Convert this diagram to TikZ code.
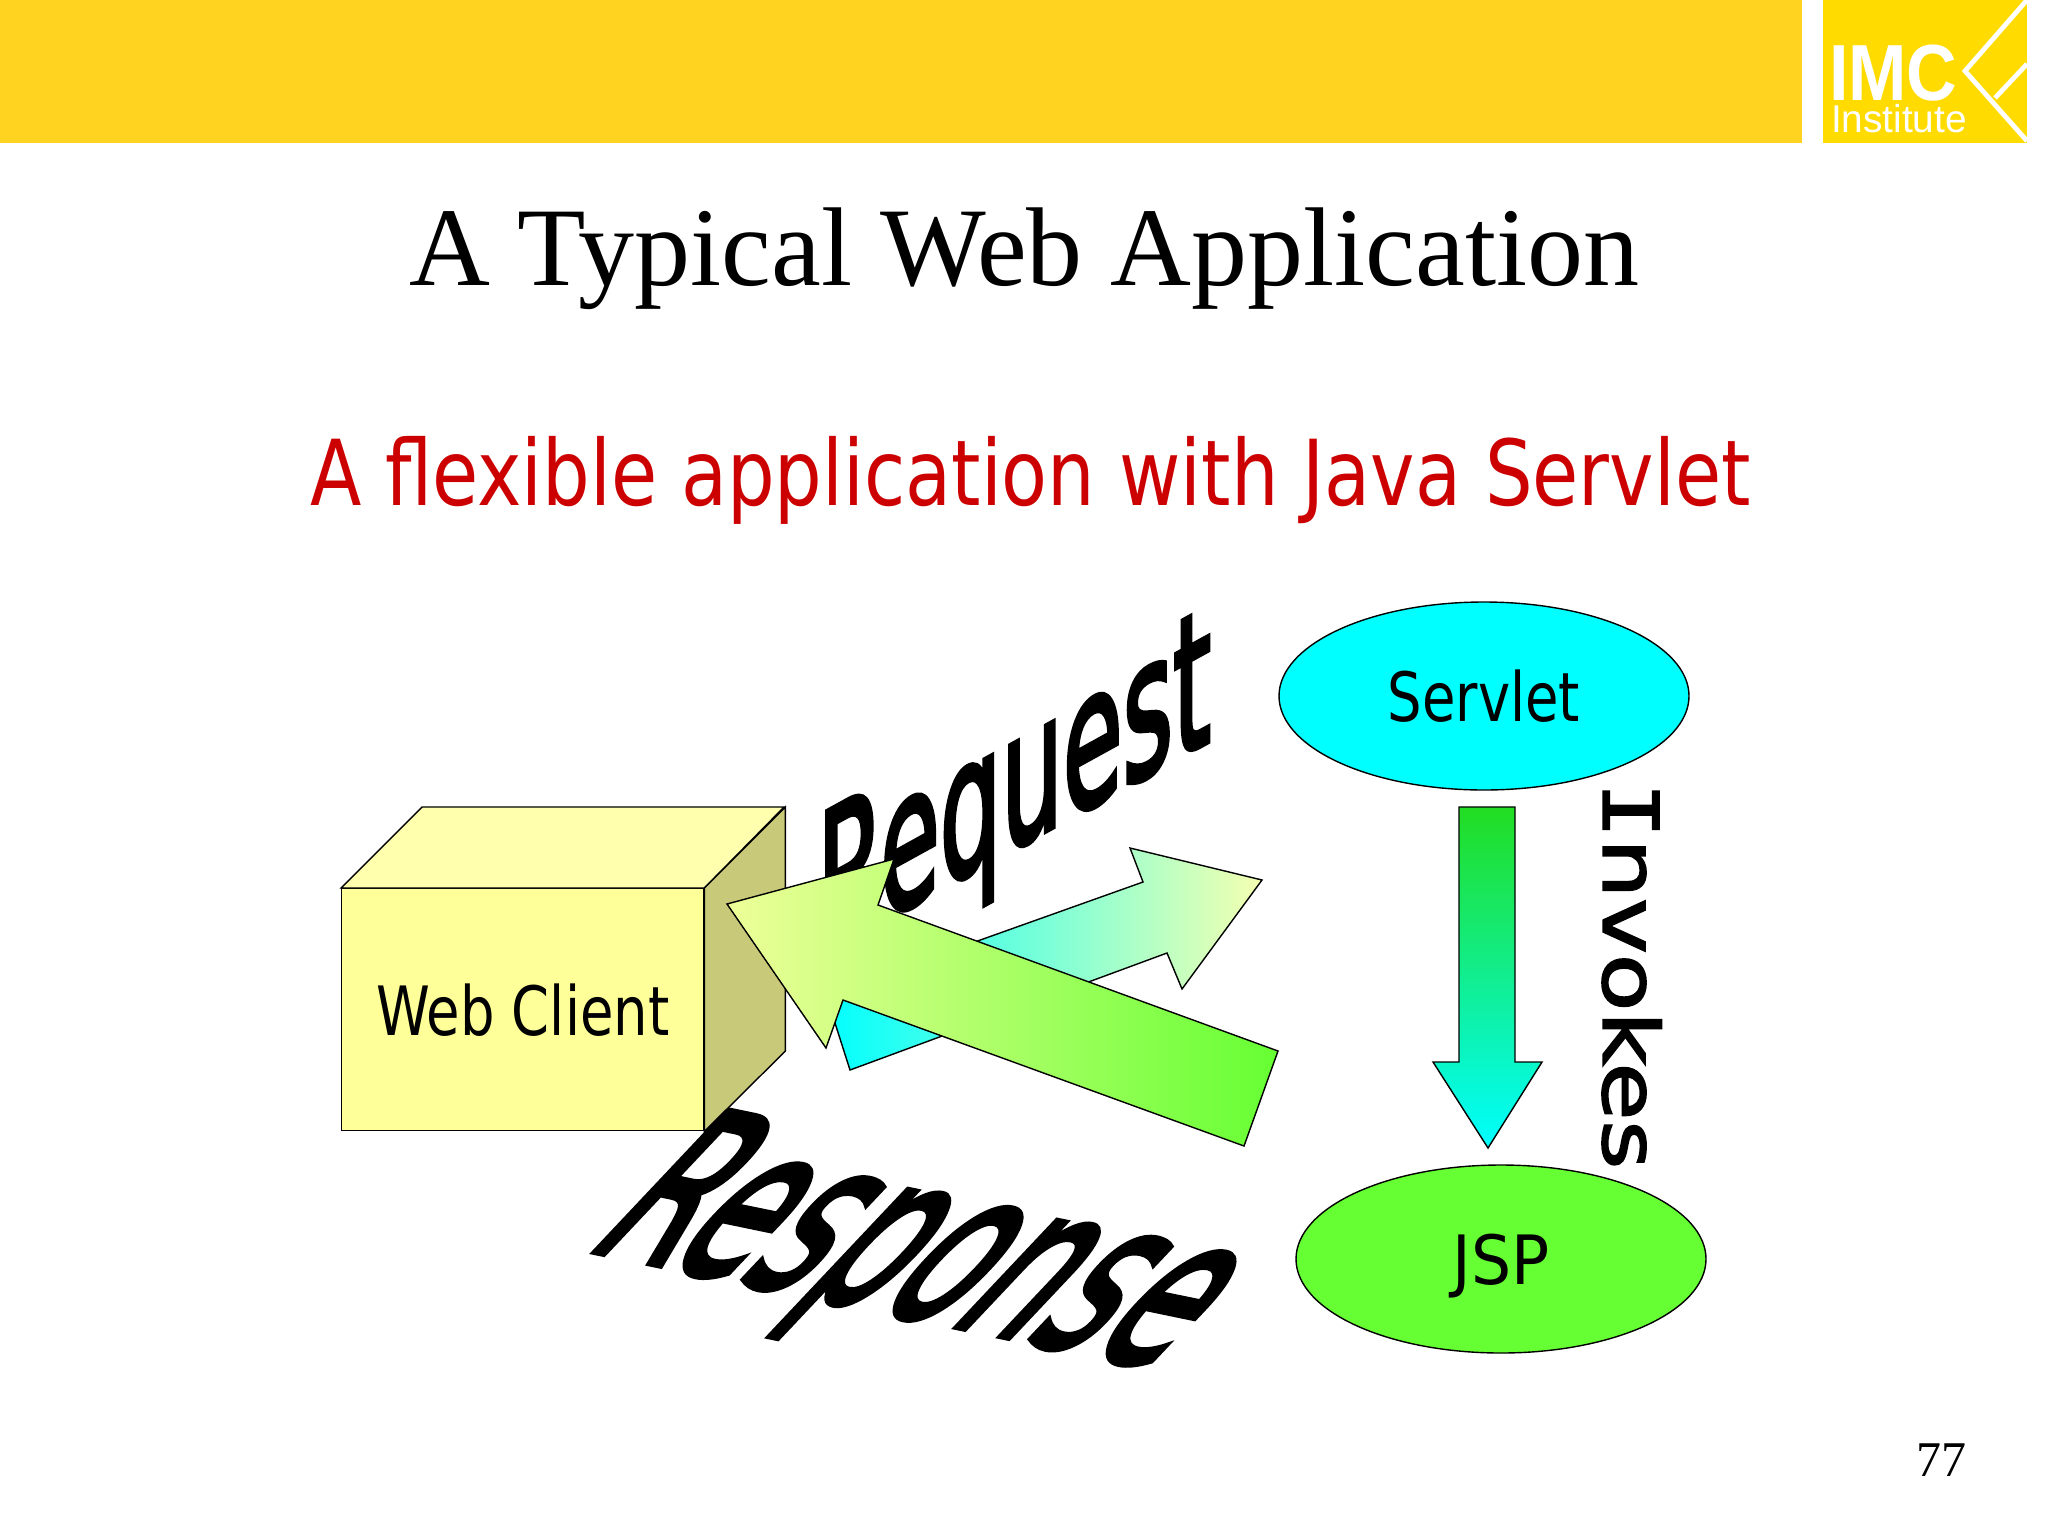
\documentclass[tikz,border=0pt]{standalone}
\usepackage{fontspec}
\usetikzlibrary{shapes.geometric}
\setmainfont{Liberation Serif}
\newfontfamily\tah[FakeStretch=0.825]{DejaVu Sans}
\newfontfamily\tahl[FakeStretch=0.8]{DejaVu Sans}
\newfontfamily\tahw[FakeStretch=0.93]{DejaVu Sans}
\newfontfamily\arts[FakeBold=3]{DejaVu Sans}
\newfontfamily\artr[FakeBold=2]{DejaVu Sans}
\newfontfamily\artmono[FakeBold=2]{DejaVu Sans Mono}
\newfontfamily\lib{Liberation Sans}
\definecolor{band}{HTML}{FFD320}
\definecolor{logoy}{HTML}{FFDB00}
\definecolor{redt}{HTML}{CC0000}
\definecolor{boxfront}{HTML}{FFFF99}
\definecolor{boxtop}{HTML}{FFFFAD}
\definecolor{boxside}{HTML}{C9C97A}
\definecolor{jspg}{HTML}{66FF33}
\definecolor{cyanp}{HTML}{00FFFF}
\definecolor{palereq}{HTML}{F4FFB0}
\definecolor{paleres}{HTML}{EEFF99}
\definecolor{topg}{HTML}{22DD22}
\tikzset{
  lab/.style={anchor=base west,inner sep=0pt,outer sep=0pt},
  outl/.style={draw=black,line width=0.7pt,line join=miter},
  oval/.style={ellipse,outl,minimum width=205pt,minimum height=94pt,inner sep=0pt,text depth=0pt,font=\tahl\fontsize{34}{34}\selectfont},
  art/.style={anchor=base west,inner sep=0pt,outer sep=0pt,transform shape,text=black},
}
\begin{document}
\begin{tikzpicture}[x=0.5pt,y=-0.5pt]
\useasboundingbox (0,0) rectangle (2048,1536);
\fill[white] (0,0) rectangle (2048,1536);
% header
\fill[band] (0,0) rectangle (1802,143);
\fill[logoy] (1823,0) rectangle (2027,143);
\node[lab,text=white,xscale=0.88,font=\lib\bfseries\fontsize{39.8}{40}\selectfont] (imc) at (1829,100) {IMC};
\node[lab,text=white,font=\lib\fontsize{19.4}{19}\selectfont] (inst) at (1831,133) {Institute};
\draw[white,line width=2.4pt] (2027,0) -- (1965,71) -- (2027,141);
\draw[white,line width=2.4pt] (1995,98) -- (2027,64);
% titles
\node[lab,font=\fontsize{56}{56}\selectfont] (title) at (409,285) {A Typical Web Application};
\node[lab,text=redt,font=\tah\fontsize{45.5}{46}\selectfont] (sub) at (310,505) {A flexible application with Java Servlet};
\node[lab,font=\fontsize{25}{25}\selectfont] (page) at (1916,1476) {77};
% Request word art
\begin{scope}[shift={(817,957)},x=1pt,y=1pt,cm={4.85,2.67,0,9.6,(0,0)}]
\node[art,font=\arts\fontsize{10}{10}\selectfont] (request) at (0,0) {Request};
\end{scope}
% Response word art
\begin{scope}[shift={(582,1249)},x=1pt,y=1pt,cm={5.98,-1.24,9.12,9.67,(0,0)}]
\node[art,font=\arts\fontsize{10}{10}\selectfont] (response) at (0,0) {Response};
\end{scope}
% Invokes word art
\begin{scope}[shift={(1603,782)},x=1pt,y=1pt,cm={0,-4.7,3.85,0,(0,0)}]
\node[art,font=\artr\fontsize{10}{10}\selectfont] (invokes) at (0,0) {{\artmono I}nvokes};
\end{scope}
% Web client box
\node[rectangle,outl,fill=boxfront,minimum width=181pt,minimum height=121pt,inner sep=0pt,anchor=north west,font=\tahl\fontsize{34}{34}\selectfont] (client) at (341,888) {Web Client};
\filldraw[outl,fill=boxtop] (client.north west) -- ++(81,-81) -- ++(362,0) -- (client.north east) -- cycle;
\filldraw[outl,fill=boxside] (client.north east) -- ++(81,-81) -- ++(0,244) -- (client.south east) -- cycle;
% ovals
\node[oval,fill=cyanp] (servlet) at (1484,696) {Servlet};
\node[oval,fill=jspg,font=\tahw\fontsize{34}{34}\selectfont] (jsp) at (1501,1259) {JSP};
% request arrow
\shadedraw[outl,left color=cyanp,right color=palereq]
  (850,1070) -- (1167,953) -- (1182,989) -- (1262,880) -- (1130,848) -- (1143,882) -- (826,995) -- cycle;
% response arrow
\shadedraw[outl,left color=paleres,right color=jspg]
  (727,904) -- (894,859) -- (878,905) -- (1278,1051) -- (1244,1146) -- (843,1000) -- (826,1048) -- cycle;
% invokes arrow
\shadedraw[outl,top color=topg,bottom color=cyanp]
  (1459,807) -- (1515,807) -- (1515,1062) -- (1542,1062) -- (1488,1148) -- (1433,1062) -- (1459,1062) -- cycle;
\end{tikzpicture}
\end{document}
